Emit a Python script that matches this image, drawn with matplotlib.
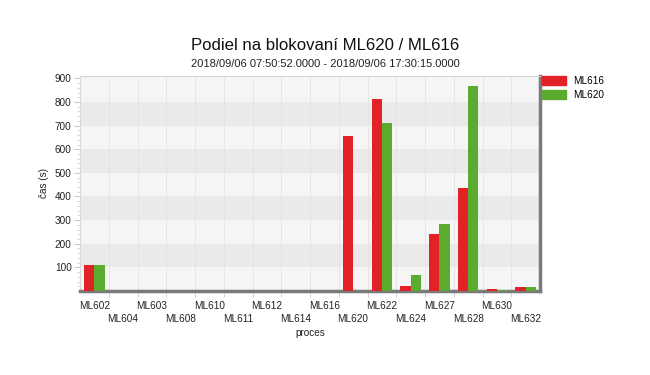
import matplotlib
matplotlib.use("Agg")
import matplotlib.pyplot as plt
import numpy as np
from matplotlib.patches import Patch

plt.rcParams["font.family"] = ["Liberation Sans", "DejaVu Sans"]

processes = ["ML602", "ML604", "ML603", "ML608", "ML610", "ML611", "ML612", "ML614",
             "ML616", "ML620", "ML622", "ML624", "ML627", "ML628", "ML630", "ML632"]
ml616 = [111, 0, 0, 0, 0, 0, 0, 0, 0, 657, 812, 20, 243, 438, 7, 17]
ml620 = [111, 0, 0, 0, 0, 0, 0, 0, 0, 0, 710, 66, 282, 869, 5, 17]
series_names = ["ML616", "ML620"]
title = "Podiel na blokovaní ML620 / ML616"
subtitle = "2018/09/06 07:50:52.0000 - 2018/09/06 17:30:15.0000"
y_ticks = [100, 200, 300, 400, 500, 600, 700, 800, 900]

RED = "#e32227"
GREEN = "#5aab2e"
TXT = "#222222"

fig = plt.figure(figsize=(6.5, 3.75), dpi=100)
ax = fig.add_axes([80 / 650, 1 - 291 / 375, 460 / 650, 215 / 375])

x = np.arange(len(processes))
w = 0.36
ax.bar(x - w / 2, ml616, width=w, color=RED, zorder=3)
ax.bar(x + w / 2, ml620, width=w, color=GREEN, zorder=3)

ax.set_xlim(-0.5, len(processes) - 0.5)
ax.set_ylim(0, 910)

# alternating background bands
ax.set_facecolor("#f5f5f5")
for lo in range(100, 900, 200):
    ax.axhspan(lo, lo + 100, color="#eaeaea", zorder=0, lw=0)

# x ticks: labels at centers (alternating rows), tick marks at boundaries
labels = [p if i % 2 == 0 else "\n" + p for i, p in enumerate(processes)]
ax.set_xticks(x)
ax.set_xticklabels(labels, fontsize=7.2, color=TXT)
for t in ax.get_xticklabels():
    t.set_linespacing(1.42)
ax.tick_params(axis="x", which="major", length=0, pad=7)
ax.set_xticks(x[:-1] + 0.5, minor=True)
ax.tick_params(axis="x", which="minor", length=4, color="#cccccc")
ax.grid(True, axis="x", which="minor", color="#e4e4e4", lw=0.6, zorder=1)

ax.set_yticks(y_ticks)
ax.set_yticklabels([str(v) for v in y_ticks], fontsize=7.2, color=TXT)
ax.set_yticks(np.arange(20, 910, 20), minor=True)
ax.tick_params(axis="y", which="major", length=4, color="#cccccc", pad=2)
ax.tick_params(axis="y", which="minor", length=2.5, color="#d5d5d5")

for side in ["left", "top"]:
    ax.spines[side].set_color("#d8d8d8")
    ax.spines[side].set_linewidth(0.8)
for side in ["bottom", "right"]:
    ax.spines[side].set_color("#7a7a7a")
    ax.spines[side].set_linewidth(2.5)

ax.set_xlabel("proces", fontsize=7.2, color=TXT, labelpad=3)
ax.set_ylabel("čas (s)", fontsize=7.2, color=TXT, labelpad=4)

fig.text(0.5, 1 - 46 / 375, title, ha="center", va="center", fontsize=12.1, color="#111111")
fig.text(0.5, 1 - 64 / 375, subtitle, ha="center", va="center", fontsize=8, color=TXT)

handles = [Patch(color=RED), Patch(color=GREEN)]
fig.legend(handles, series_names, loc="upper left",
           bbox_to_anchor=(542 / 650, 1 - 76 / 375), frameon=False, fontsize=7.2,
           handlelength=2.4, handleheight=0.95, handletextpad=0.7,
           labelspacing=0.4, borderpad=0, borderaxespad=0)

fig.savefig("out.png", dpi=100)
